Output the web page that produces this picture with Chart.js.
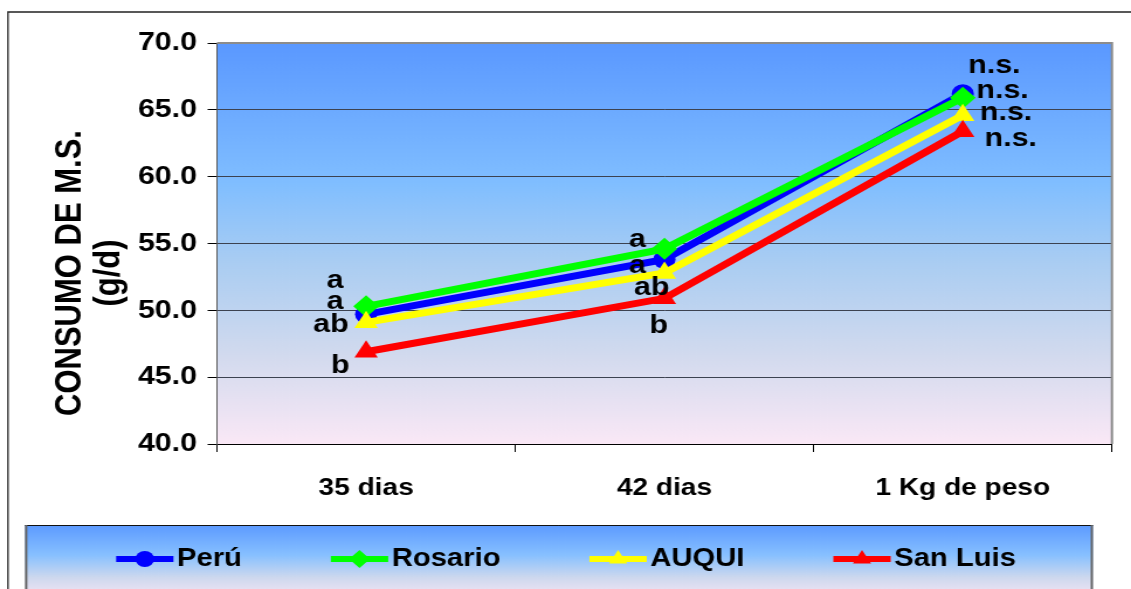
<!DOCTYPE html>
<html>
<head>
<meta charset="utf-8">
<script src="https://cdn.jsdelivr.net/npm/chart.js@4/dist/chart.umd.min.js"></script>
<style>
  html, body { margin: 0; padding: 0; background: #fff; overflow: hidden; }
  #c { display: block; }
</style>
</head>
<body>
<!-- drawn narrower and widened on screen, giving the wide lettering -->
<canvas id="c" width="967" height="589" style="width:1131px;height:589px"></canvas>
<script>
// ---- data ----
const categories = ['35 dias', '42 dias', '1 Kg de peso'];
const peru    = [49.7, 53.8, 66.2];
const rosario = [50.3, 54.6, 65.9];
const auqui   = [49.1, 52.8, 64.6];
const sanLuis = [46.9, 50.9, 63.4];
const yTicks  = [40, 45, 50, 55, 60, 65, 70];
// significance letters per series
const peruMarks    = ['a', 'a', 'n.s.'];
const rosarioMarks = ['a', 'a', 'n.s.'];
const auquiMarks   = ['ab', 'ab', 'n.s.'];
const sanLuisMarks = ['b', 'b', 'n.s.'];
const yTitle = ['CONSUMO DE M.S.', '(g/d)'];

const FONT = "'Liberation Sans', Arial, sans-serif";

function drawMarker(ctx, style, x, y, r, color) {
  ctx.save();
  ctx.fillStyle = color;
  ctx.beginPath();
  if (style === 'circle') {
    ctx.arc(x, y, r, 0, Math.PI * 2);
  } else if (style === 'rectRot') {
    ctx.moveTo(x, y - r); ctx.lineTo(x + r, y); ctx.lineTo(x, y + r); ctx.lineTo(x - r, y);
  } else {
    const h = r * 1.5, s = r * Math.sqrt(3);
    ctx.moveTo(x, y - r); ctx.lineTo(x + s / 2, y + h - r); ctx.lineTo(x - s / 2, y + h - r);
  }
  ctx.closePath();
  ctx.fill();
  ctx.restore();
}

// backgrounds: page frame, plot gradient, legend panel
const backdrop = {
  id: 'backdrop',
  beforeDraw(chart) {
    const { ctx, chartArea: a, width } = chart;
    ctx.save();
    ctx.fillStyle = '#fff';
    ctx.fillRect(0, 0, width, chart.height);

    // outer frame
    ctx.strokeStyle = '#222';
    ctx.lineWidth = 1.3;
    ctx.beginPath();
    ctx.moveTo(6.8, 600); ctx.lineTo(6.8, 12); ctx.lineTo(width, 12);
    ctx.stroke();

    // plot area gradient
    const g = ctx.createLinearGradient(0, a.top, 0, a.bottom);
    g.addColorStop(0, 'rgb(90,152,255)');
    g.addColorStop(0.35, 'rgb(128,190,255)');
    g.addColorStop(0.55, 'rgb(170,205,242)');
    g.addColorStop(0.78, 'rgb(210,218,238)');
    g.addColorStop(1, 'rgb(250,232,246)');
    ctx.fillStyle = g;
    ctx.fillRect(a.left, a.top, a.right - a.left, a.bottom - a.top);

    // legend panel
    const lx0 = 21.4, lx1 = 934.5, ly0 = 525, ly1 = 600;
    const lg = ctx.createLinearGradient(0, ly0, 0, ly1);
    lg.addColorStop(0, 'rgb(92,154,255)');
    lg.addColorStop(0.4, 'rgb(135,192,255)');
    lg.addColorStop(0.7, 'rgb(205,216,238)');
    lg.addColorStop(1, 'rgb(250,232,246)');
    ctx.fillStyle = lg;
    ctx.fillRect(lx0, ly0, lx1 - lx0, ly1 - ly0);
    ctx.strokeStyle = '#111';
    ctx.lineWidth = 1;
    ctx.beginPath(); ctx.moveTo(lx0, ly0 + 0.5); ctx.lineTo(lx1, ly0 + 0.5); ctx.stroke();
    ctx.strokeStyle = '#666';
    ctx.lineWidth = 2;
    ctx.beginPath(); ctx.moveTo(lx0 + 1, ly0); ctx.lineTo(lx0 + 1, ly1); ctx.stroke();
    ctx.beginPath(); ctx.moveTo(lx1 - 1, ly0); ctx.lineTo(lx1 - 1, ly1); ctx.stroke();
    ctx.restore();
  },
  beforeDatasetsDraw(chart) {
    const { ctx, chartArea: a } = chart;
    ctx.save();
    ctx.strokeStyle = '#8c8c8c';
    ctx.lineWidth = 2;
    ctx.beginPath();
    ctx.moveTo(a.left, a.top); ctx.lineTo(a.right, a.top); ctx.lineTo(a.right, a.bottom);
    ctx.stroke();
    ctx.restore();
  }
};

// significance letters beside each point
const markLabels = {
  id: 'markLabels',
  afterDatasetsDraw(chart, args, opts) {
    const { ctx } = chart;
    ctx.save();
    ctx.font = 'bold 26px ' + FONT;
    ctx.fillStyle = '#000';
    ctx.textAlign = 'center';
    ctx.textBaseline = 'alphabetic';
    chart.data.datasets.forEach((ds, i) => {
      const meta = chart.getDatasetMeta(i);
      meta.data.forEach((pt, j) => {
        const [dx, dy] = opts.offsets[i][j];
        ctx.fillText(ds.marks[j], pt.x + dx, pt.y + dy);
      });
    });
    ctx.restore();
  }
};

// legend row with line + marker swatches
const legendRow = {
  id: 'legendRow',
  afterDraw(chart) {
    const { ctx } = chart;
    const sets = chart.data.datasets;
    ctx.save();
    ctx.font = 'bold 25px ' + FONT;
    const lineLen = 49, gap = 3, spacing = 76;
    const widths = sets.map(d => ctx.measureText(d.label).width);
    const total = widths.reduce((s, w) => s + lineLen + gap + w, 0) + spacing * (sets.length - 1);
    let x = 484 - total / 2;
    const y = 559;
    sets.forEach((d, i) => {
      ctx.strokeStyle = d.borderColor;
      ctx.lineWidth = 6;
      ctx.beginPath(); ctx.moveTo(x, y); ctx.lineTo(x + lineLen, y); ctx.stroke();
      drawMarker(ctx, d.pointStyle, x + lineLen / 2, y, d.pointStyle === 'circle' ? 8 : 9, d.backgroundColor);
      ctx.fillStyle = '#000';
      ctx.textAlign = 'left';
      ctx.textBaseline = 'middle';
      ctx.fillText(d.label, x + lineLen + gap, y);
      x += lineLen + gap + widths[i] + spacing;
    });
    ctx.restore();
  }
};

// rotated value-axis title
const axisTitle = {
  id: 'axisTitle',
  afterDraw(chart) {
    const { ctx } = chart;
    ctx.save();
    ctx.font = 'bold 31px ' + FONT;
    ctx.fillStyle = '#000';
    ctx.textAlign = 'center';
    ctx.textBaseline = 'middle';
    const xs = [60, 93.5];
    yTitle.forEach((t, k) => {
      ctx.save();
      ctx.translate(xs[k], 273);
      ctx.rotate(-Math.PI / 2);
      ctx.fillText(t, 0, 0);
      ctx.restore();
    });
    ctx.restore();
  }
};

function series(label, data, marks, color, style, radius, order) {
  return {
    label, data, marks, order,
    borderColor: color, backgroundColor: color,
    borderWidth: 7, tension: 0,
    pointStyle: style, pointRadius: radius, pointBorderWidth: 0,
    pointBackgroundColor: color
  };
}

new Chart(document.getElementById('c'), {
  type: 'line',
  data: {
    labels: categories,
    datasets: [
      series('Perú', peru, peruMarks, '#0000ff', 'circle', 9.5, 3),
      series('Rosario', rosario, rosarioMarks, '#00ff00', 'rectRot', 11, 2),
      series('AUQUI', auqui, auquiMarks, '#ffff00', 'triangle', 11.5, 1),
      series('San Luis', sanLuis, sanLuisMarks, '#ff0000', 'triangle', 11.5, 0)
    ]
  },
  options: {
    responsive: false,
    animation: false,
    devicePixelRatio: 1,
    layout: { padding: { left: 0, top: 43, right: 16.3, bottom: 0 } },
    plugins: {
      legend: { display: false },
      tooltip: { enabled: false },
      markLabels: {
        offsets: [
          [[-26.5, -5], [-23, 13], [27, -21]],
          [[-26.5, -18], [-23, -2], [34, 0]],
          [[-30, 10], [-11, 22], [37, 5]],
          [[-22, 21], [-5, 35], [41, 15]]
        ]
      }
    },
    scales: {
      x: {
        offset: true,
        grid: { offset: true, drawOnChartArea: false, drawTicks: true, tickLength: 8, color: '#000', lineWidth: 1 },
        border: { color: '#000', width: 1 },
        ticks: { color: '#000', padding: 22, font: { family: FONT, size: 24, weight: 'bold' } },
        afterFit(s) { s.height = 145; }
      },
      y: {
        min: 40, max: 70,
        afterBuildTicks(s) { s.ticks = yTicks.map(v => ({ value: v })); },
        ticks: {
          color: '#000', padding: 9,
          font: { family: FONT, size: 26, weight: 'bold' },
          callback: v => Number(v).toFixed(1)
        },
        grid: { color: '#3c4250', tickColor: '#000', tickLength: 8, lineWidth: 1 },
        border: { color: '#555', width: 1 },
        afterFit(s) { s.width = 185.5; }
      }
    }
  },
  plugins: [backdrop, markLabels, legendRow, axisTitle]
});
</script>
</body>
</html>
